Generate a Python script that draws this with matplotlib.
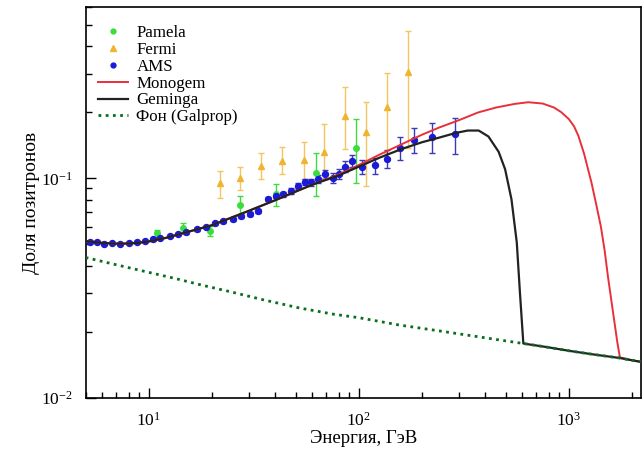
import numpy as np
import matplotlib
matplotlib.use("Agg")
import matplotlib.pyplot as plt
from matplotlib.lines import Line2D
from matplotlib.ticker import LogLocator, NullFormatter

plt.rcParams["font.family"] = ["Liberation Serif", "DejaVu Serif"]
plt.rcParams["mathtext.fontset"] = "custom"
plt.rcParams["mathtext.rm"] = "Liberation Serif"

# Pamela
pam_e = [10.9, 14.6, 19.5, 27.1, 40.4, 62.5, 96.8]
pam_f = [0.0565, 0.0596, 0.0574, 0.0754, 0.0845, 0.1062, 0.138]
pam_lo = [0.0541, 0.0565, 0.0545, 0.0673, 0.0747, 0.083, 0.0956]
pam_hi = [0.0581, 0.0623, 0.0605, 0.0830, 0.0939, 0.130, 0.186]

# Fermi
fermi_e = [21.8, 27.3, 34.3, 43.2, 54.5, 68.5, 85.8, 108.6, 136.6, 171.8]
fermi_f = [0.0949, 0.100, 0.1138, 0.120, 0.1208, 0.1318, 0.1913, 0.1617, 0.2117, 0.304]
fermi_lo = [0.0816, 0.0884, 0.099, 0.1043, 0.099, 0.1007, 0.1357, 0.0922, 0.131, 0.138]
fermi_hi = [0.108, 0.1126, 0.131, 0.1395, 0.1456, 0.1765, 0.2594, 0.2230, 0.3015, 0.469]

# AMS
ams_e = [5.27, 5.67, 6.09, 6.68, 7.31, 8.0, 8.77, 9.6, 10.5, 11.3, 12.6, 13.8,
         15.1, 16.9, 18.8, 20.6, 22.6, 25.2, 27.6, 30.2, 33.0, 36.9, 40.4,
         43.5, 47.6, 51.2, 55.1, 59.2, 63.7, 69.0, 75.0, 80.1, 85.8, 92.3,
         103.3, 119.4, 136.7, 156.4, 182.8, 223.2, 286]
ams_f = [0.0513, 0.0511, 0.0502, 0.0505, 0.0502, 0.0508, 0.0513, 0.0518,
         0.0527, 0.0535, 0.0546, 0.0558, 0.0567, 0.0585, 0.0601, 0.0623,
         0.0636, 0.065, 0.0671, 0.0689, 0.0711, 0.0802, 0.0830, 0.0845,
         0.0875, 0.0922, 0.0962, 0.0962, 0.099, 0.1043, 0.1007, 0.1043,
         0.1131, 0.120, 0.1131, 0.1146, 0.123, 0.138, 0.1496, 0.155, 0.1588]
ams_err = [0.0005, 0.0005, 0.0005, 0.0005, 0.0005, 0.0005, 0.0005, 0.0005,
           0.0006, 0.0006, 0.0006, 0.0007, 0.0007, 0.0008, 0.0008, 0.0009,
           0.0010, 0.0011, 0.0012, 0.0013, 0.0015, 0.0017, 0.0020, 0.0022,
           0.0025, 0.0028, 0.0032, 0.0035, 0.0040, 0.0045, 0.0050, 0.0055,
           0.0065, 0.0075, 0.0085, 0.0095, 0.011, 0.017, 0.019, 0.024, 0.030]

# Monogem model
mono_e = [5, 6, 7, 8, 9, 10, 12, 15, 20, 25, 30, 40, 50, 60, 80, 100, 125,
          160, 200, 240, 300, 370, 450, 550, 640, 750, 850, 920, 1000, 1060,
          1110, 1180, 1240, 1280, 1350, 1420, 1480, 1535, 1600, 1660, 1700,
          1750, 1900, 2200]
mono_f = [0.0518, 0.0508, 0.0504, 0.0505, 0.0509, 0.0516, 0.0535, 0.0567,
          0.0612, 0.0665, 0.0712, 0.0795, 0.0870, 0.0935, 0.104, 0.115,
          0.128, 0.143, 0.158, 0.170, 0.184, 0.1995, 0.210, 0.218, 0.222,
          0.219, 0.210, 0.200, 0.186, 0.172, 0.156, 0.130, 0.108, 0.096,
          0.076, 0.0604, 0.047, 0.0357, 0.027, 0.0211, 0.018, 0.0153,
          0.0150, 0.0146]

# Geminga model
gem_e = [5, 6, 7, 8, 9, 10, 12, 15, 20, 25, 30, 40, 50, 60, 80, 100, 125,
         160, 200, 240, 290, 330, 372, 414, 463, 497, 533, 565, 585, 607,
         800, 1000, 1300, 1750, 2200]
gem_f = [0.0518, 0.0508, 0.0504, 0.0505, 0.0509, 0.0516, 0.0535, 0.0567,
         0.0612, 0.0665, 0.0712, 0.0795, 0.0870, 0.0935, 0.103, 0.113,
         0.124, 0.136, 0.146, 0.153, 0.161, 0.165, 0.165, 0.155, 0.132,
         0.110, 0.0802, 0.0509, 0.0300, 0.0177, 0.0170, 0.0164, 0.0158,
         0.0152, 0.0146]

# Galprop background
bg_e = [5, 7, 10, 13.5, 17.5, 25, 35, 52, 75, 100, 155, 250, 462, 607, 800,
        1000, 1300, 1750, 2200]
bg_f = [0.0436, 0.0404, 0.0373, 0.0349, 0.0328, 0.0303, 0.0280, 0.0257,
        0.0241, 0.0232, 0.0215, 0.0201, 0.0184, 0.0177, 0.0170, 0.0164,
        0.0158, 0.0152, 0.0146]

c_pam, c_fermi, c_ams = "#3ddc3d", "#f0b432", "#1a1ad8"
c_mono, c_gem, c_bg = "#e8303a", "#222222", "#0a6e1e"

fig = plt.figure(figsize=(6.44, 4.5), dpi=100)
ax = fig.add_axes([0.133, 0.1156, 0.862, 0.868])

pam_f = np.array(pam_f)
fermi_f = np.array(fermi_f)
ax.errorbar(pam_e, pam_f, yerr=[pam_f - np.array(pam_lo), np.array(pam_hi) - pam_f],
            fmt="o", ms=4, color=c_pam, ecolor=c_pam, elinewidth=1,
            capsize=2.5, zorder=3)
ax.errorbar(fermi_e, fermi_f, yerr=[fermi_f - np.array(fermi_lo), np.array(fermi_hi) - fermi_f],
            fmt="^", ms=4.5, color=c_fermi, ecolor="#f2c660", elinewidth=1,
            capsize=2.5, zorder=3)
ax.errorbar(ams_e, ams_f, yerr=ams_err, fmt="o", ms=4.3, color=c_ams,
            ecolor="#3a3ab8", elinewidth=1, capsize=2.5, zorder=3)

ax.plot(mono_e, mono_f, color=c_mono, lw=1.4, zorder=4)
ax.plot(gem_e, gem_f, color=c_gem, lw=1.6, zorder=5)
ax.plot(bg_e, bg_f, color=c_bg, lw=2, ls=(0, (1, 1.6)), zorder=5)

ax.set_xscale("log")
ax.set_yscale("log")
ax.set_xlim(5, 2200)
ax.set_ylim(0.01, 0.6)

ax.yaxis.set_major_locator(LogLocator(base=10))
ax.yaxis.set_minor_locator(LogLocator(base=10, subs=np.arange(2, 10)))
ax.yaxis.set_minor_formatter(NullFormatter())
ax.xaxis.set_minor_formatter(NullFormatter())
ax.tick_params(which="both", direction="in", top=False, right=False,
               labelsize=12.5, width=1, color="black")
ax.tick_params(which="major", length=7)
ax.tick_params(which="minor", length=4.5)
ax.tick_params(axis="x", which="major", pad=10)
ax.tick_params(axis="y", which="major", pad=9)
for s in ax.spines.values():
    s.set_linewidth(1.2)

ax.set_xlabel("Энергия, ГэВ", fontsize=13.5, labelpad=0)
ax.set_ylabel("Доля позитронов", fontsize=14, labelpad=1)

handles = [
    Line2D([], [], ls="none", marker="o", ms=3.5, color=c_pam, label="Pamela"),
    Line2D([], [], ls="none", marker="^", ms=4, color=c_fermi, label="Fermi"),
    Line2D([], [], ls="none", marker="o", ms=3.5, color=c_ams, label="AMS"),
    Line2D([], [], color=c_mono, lw=1.4, label="Monogem"),
    Line2D([], [], color=c_gem, lw=1.6, label="Geminga"),
    Line2D([], [], color=c_bg, lw=2, ls=(0, (1, 1.6)), label="Фон (Galprop)"),
]
ax.legend(handles=handles, loc="upper left", frameon=False, fontsize=12.2,
          handlelength=1.8, labelspacing=0.05, handletextpad=0.5,
          borderaxespad=0.3, bbox_to_anchor=(0.0, 0.985))

fig.savefig("out.png", dpi=100)
